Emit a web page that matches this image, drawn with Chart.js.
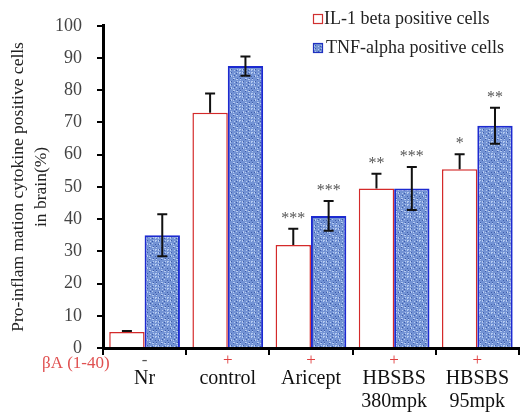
<!DOCTYPE html>
<html>
<head>
<meta charset="utf-8">
<script src="https://cdn.jsdelivr.net/npm/chart.js@4.4.0/dist/chart.umd.min.js"></script>
<style>
  html, body { margin: 0; padding: 0; background: #fff; }
</style>
</head>
<body>
<canvas id="chart" width="521" height="413"></canvas>
<script>
// Groups and values
const groups = [['Nr'], ['control'], ['Aricept'], ['HBSBS', '380mpk'], ['HBSBS', '95mpk']];
const betaA = ['-', '+', '+', '+', '+'];
const il1 = [5, 73, 32, 49.5, 55.5];
const il1Err = [0.3, 6, 5, 4.6, 4.6];
const tnf = [35, 87.5, 41, 49.5, 69];
const tnfErr = [6.5, 3, 4.6, 6.7, 5.6];
const il1Stars = ['', '', '***', '**', '*'];
const tnfStars = ['', '', '***', '***', '**'];

const serif = '"Liberation Serif", "DejaVu Serif", serif';

// blue mottled fill like the original texture
function makePattern() {
    const p = document.createElement('canvas');
    p.width = 12; p.height = 12;
    const g = p.getContext('2d');
    g.fillStyle = '#7393d4';
    g.fillRect(0, 0, 12, 12);
    for (let i = 0; i < 12; i++) {
        for (let j = 0; j < 12; j++) {
            const k = (i * 7 + j * 11 + i * j) % 9;
            if (k === 0 || k === 5) { g.fillStyle = '#b4caf0'; g.fillRect(i, j, 1, 1); }
            else if (k === 3) { g.fillStyle = '#3d5cab'; g.fillRect(i, j, 1, 1); }
        }
    }
    return g.createPattern(p, 'repeat');
}

const ctx = document.getElementById('chart').getContext('2d');
const tnfFill = makePattern();

// error bars, stars, legend and the βA row
const extras = {
    id: 'extras',
    afterDatasetsDraw(chart) {
        const c = chart.ctx;
        const y = chart.scales.y;
        const sets = [[il1Err, il1Stars, false], [tnfErr, tnfStars, true]];
        sets.forEach(([errs, stars, both], di) => {
            const ds = chart.data.datasets[di];
            chart.getDatasetMeta(di).data.forEach((bar, i) => {
                const v = ds.data[i];
                const top = y.getPixelForValue(v + errs[i]);
                const bot = both ? y.getPixelForValue(v - errs[i]) : y.getPixelForValue(v);
                c.save();
                c.strokeStyle = '#111';
                c.lineWidth = 2;
                c.beginPath();
                c.moveTo(bar.x, top); c.lineTo(bar.x, bot);
                c.moveTo(bar.x - 5, top); c.lineTo(bar.x + 5, top);
                if (both) { c.moveTo(bar.x - 5, bot); c.lineTo(bar.x + 5, bot); }
                c.stroke();
                if (stars[i]) {
                    c.fillStyle = '#555';
                    c.font = '16px ' + serif;
                    c.textAlign = 'center';
                    c.textBaseline = 'alphabetic';
                    c.fillText(stars[i], bar.x, top - 6);
                }
                c.restore();
            });
        });
    },
    afterDraw(chart) {
        const c = chart.ctx;
        const x = chart.scales.x;
        c.save();
        c.font = '17px ' + serif;
        c.textBaseline = 'middle';
        c.textAlign = 'center';
        betaA.forEach((s, i) => {
            c.fillStyle = s === '+' ? '#e04040' : '#555';
            c.fillText(s, x.getPixelForValue(i), 361);
        });
        c.textAlign = 'left';
        c.fillStyle = '#e05050';
        c.fillText('\u03B2A (1-40)', 42, 364);

        // legend
        c.lineWidth = 1.2;
        c.fillStyle = '#fff';
        c.strokeStyle = '#d03030';
        c.fillRect(313.5, 14.5, 9, 9);
        c.strokeRect(313.5, 14.5, 9, 9);
        c.fillStyle = tnfFill;
        c.fillRect(313.5, 43.5, 9, 9);
        c.strokeStyle = '#2030c0';
        c.strokeRect(313.5, 43.5, 9, 9);
        c.font = '18px ' + serif;
        c.fillStyle = '#222';
        c.fillText('IL-1 beta positive cells', 324, 19);
        c.fillText('TNF-alpha positive cells', 326, 48);
        c.restore();
    }
};

new Chart(ctx, {
    type: 'bar',
    data: {
        labels: groups,
        datasets: [{
            label: 'IL-1 beta positive cells',
            data: il1,
            backgroundColor: '#ffffff',
            borderColor: '#d42a2a',
            borderWidth: 1.5,
            categoryPercentage: 0.85,
            barPercentage: 1
        }, {
            label: 'TNF-alpha positive cells',
            data: tnf,
            backgroundColor: tnfFill,
            borderColor: '#1c2ad0',
            borderWidth: 2,
            categoryPercentage: 0.85,
            barPercentage: 1
        }]
    },
    options: {
        responsive: false,
        animation: false,
        layout: { padding: { top: 25, right: 0, left: 0, bottom: 0 } },
        plugins: {
            legend: { display: false },
            tooltip: { enabled: false }
        },
        scales: {
            x: {
                grid: { display: true, drawOnChartArea: false, offset: true, color: '#000', lineWidth: 2, tickLength: 7 },
                border: { color: '#000', width: 3 },
                ticks: { color: '#111', font: { family: serif, size: 20, lineHeight: 1.15 }, padding: 12, maxRotation: 0 },
                afterFit(scale) { scale.height = 65; }
            },
            y: {
                min: 0,
                max: 100,
                ticks: { stepSize: 10, color: '#444', font: { family: serif, size: 18 }, padding: 15 },
                grid: { display: true, drawOnChartArea: false, color: '#000', lineWidth: 2, tickLength: 6 },
                border: { color: '#000', width: 3 },
                title: {
                    display: true,
                    text: ['Pro-inflam mation cytokine positive cells', 'in brain(%)'],
                    color: '#222',
                    font: { family: serif, size: 17.5, lineHeight: 1.3 },
                    padding: { top: 7, bottom: 0 }
                },
                afterFit(scale) { scale.width = 103; }
            }
        }
    },
    plugins: [extras]
});
</script>
</body>
</html>
